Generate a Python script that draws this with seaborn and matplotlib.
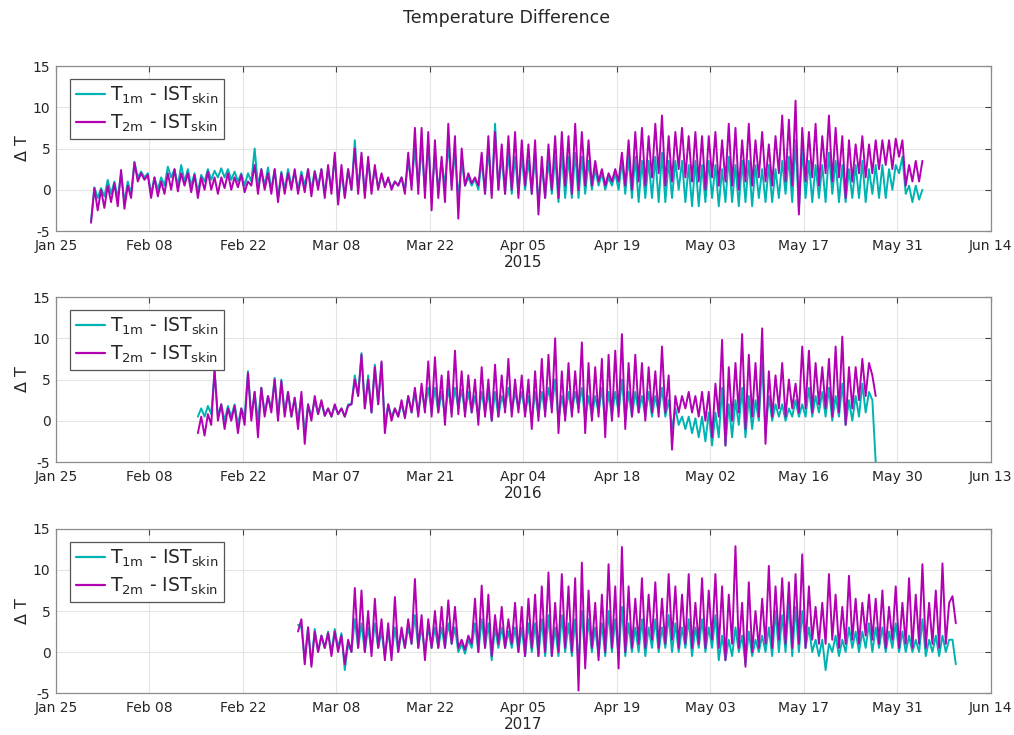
import matplotlib
matplotlib.use('Agg')
import matplotlib.dates as mdates
import matplotlib.pyplot as plt
import numpy as np
import pandas as pd
import seaborn as sns

# half-daily values (morning low, afternoon high)
years = [2015, 2016, 2017]
starts = ['2015-01-30', '2016-02-15', '2017-03-02']

cyan_2015 = [
    -3.8, 0.3, -1.0, 0.2, -0.8, 1.2, -0.5, 1.0, -1.0, 2.0, -1.5, 1.0, -0.5, 3.4,
    1.5, 2.2, 1.5, 2.0, -0.5, 1.5, 0.0, 1.5, 0.5, 2.8, 1.5, 2.5, 0.5, 3.0,
    1.0, 2.5, 0.5, 2.0, -0.3, 1.8, 1.0, 2.5, 1.2, 2.3, 1.5, 2.6, 1.5, 2.5,
    1.2, 2.2, 1.0, 2.0, 0.5, 2.0, 1.0, 5.0, 0.5, 2.5, 0.5, 2.7, 0.0, 2.5,
    -1.0, 2.2, 0.0, 2.5, 0.5, 2.0, 0.0, 2.2, 0.5, 2.5, 0.0, 2.3, 0.5, 2.5,
    -0.5, 2.5, 0.0, 4.0, -1.5, 2.0, -0.8, 2.5, 0.0, 6.0, 0.0, 4.0, -0.5, 3.5,
    0.0, 2.5, 0.3, 1.8, 0.5, 1.3, 0.3, 1.0, 0.5, 1.5, 0.0, 3.5, 0.5, 5.0,
    0.5, 5.0, 0.0, 5.5, -0.5, 4.0, 0.0, 3.5, 0.5, 5.5, 0.5, 4.5, -1.0, 3.5,
    0.5, 1.5, 0.5, 1.3, 0.0, 3.5, -0.5, 5.0, -0.5, 8.0, 0.0, 4.0, -0.5, 4.5,
    -0.5, 4.0, -0.5, 4.0, 0.0, 3.5, -0.5, 4.0, -1.5, 3.0, -1.0, 3.5, -0.5, 4.0,
    -1.5, 4.5, -1.0, 4.0, -1.0, 4.5, -1.0, 4.0, -0.5, 3.5, 0.0, 2.5, 0.5, 2.0,
    0.0, 1.5, 0.5, 2.0, 0.0, 3.5, -0.5, 4.0, -1.0, 4.0, -1.5, 3.5, -1.0, 3.5,
    -1.0, 4.0, -1.5, 4.5, -1.5, 3.5, -1.0, 3.5, 0.0, 3.5, -1.5, 3.0, -2.0, 3.5,
    -2.0, 3.0, -1.5, 3.5, -1.0, 3.0, -2.0, 2.5, -1.5, 4.0, -1.5, 3.0, -2.0, 3.5,
    -1.5, 3.5, -2.0, 3.0, -1.0, 2.5, -1.5, 3.0, -1.5, 2.5, -1.0, 3.5, -0.5, 4.0,
    -1.5, 6.0, -2.5, 5.0, -1.0, 3.5, -1.5, 3.0, -1.0, 3.0, -1.5, 4.5, -0.5, 3.5,
    -1.5, 3.0, -1.5, 2.5, -1.0, 3.0, -1.0, 3.5, -1.5, 2.5, -0.5, 3.0, -1.0, 3.0,
    -1.0, 2.5, 0.0, 3.0, 2.0, 4.0, -0.5, 0.5, -1.5, 0.5, -1.2, 0.0,
]
mag_2015 = [
    -4.0, 0.2, -2.5, 0.0, -2.2, 0.5, -1.5, 0.8, -2.0, 2.4, -2.3, 0.5, -1.0, 3.3,
    1.0, 2.0, 1.2, 1.8, -1.0, 1.5, -0.8, 1.0, -0.5, 2.0, 0.0, 2.5, -0.2, 2.0,
    0.5, 2.0, -0.3, 1.8, -1.0, 1.5, 0.0, 2.2, 0.0, 1.5, -0.5, 1.5, 0.2, 2.0,
    0.0, 1.5, 0.3, 1.8, -0.3, 1.0, 0.5, 3.0, -0.5, 2.5, 0.0, 2.0, -0.5, 2.5,
    -1.5, 2.0, -0.5, 2.0, 0.0, 2.5, -0.5, 1.8, -0.3, 2.5, -0.8, 2.2, 0.0, 2.5,
    -1.0, 3.0, -0.5, 4.5, -1.8, 3.0, -1.0, 2.5, 0.0, 5.0, -0.5, 4.5, -1.0, 4.0,
    -0.5, 3.0, 0.0, 2.0, 0.3, 1.5, 0.0, 1.0, 0.5, 1.5, -0.5, 4.5, 0.0, 7.5,
    -0.5, 7.5, -1.0, 7.0, -2.5, 6.0, -1.0, 4.0, -1.5, 8.0, 0.0, 6.5, -3.5, 5.0,
    0.5, 2.0, 0.8, 1.5, 0.5, 4.5, -0.5, 6.5, -1.0, 7.0, 0.0, 5.5, -0.5, 6.5,
    0.0, 7.0, -1.0, 6.0, 0.5, 5.5, -0.5, 6.0, -3.0, 4.0, -1.0, 5.5, 0.0, 6.5,
    -1.0, 7.0, 0.5, 6.5, -0.5, 8.0, 0.0, 7.0, 0.5, 6.0, 0.5, 3.5, 1.0, 2.5,
    0.5, 2.0, 1.0, 2.5, 1.0, 4.5, 0.5, 6.0, 0.0, 7.0, 1.0, 7.5, 0.5, 6.5,
    1.5, 8.0, 2.0, 9.0, 0.5, 6.5, 1.0, 7.0, 2.5, 7.5, 1.5, 6.5, 1.0, 7.0,
    1.0, 6.5, 0.0, 6.5, 1.5, 7.0, 0.5, 6.0, 1.0, 8.0, 0.5, 7.5, 0.0, 6.0,
    1.0, 8.0, 0.5, 6.0, 1.5, 7.0, 1.0, 5.5, 0.5, 6.5, 2.0, 9.0, 1.0, 8.5,
    0.5, 10.8, -3.0, 7.5, 1.0, 7.0, 1.5, 8.0, 0.5, 6.5, 2.0, 9.0, 1.0, 7.5,
    1.5, 6.5, -1.0, 6.0, 1.0, 5.5, 2.0, 6.5, 1.5, 5.5, 2.0, 6.0, 2.5, 6.0,
    3.0, 6.0, 2.5, 6.2, 4.0, 6.0, 0.5, 3.0, 1.0, 3.5, 1.0, 3.5,
]

cyan_2016 = [
    0.5, 1.5, 0.5, 1.8, 0.8, 6.0, 0.5, 2.0, 0.0, 1.8, 0.5, 2.0, -0.5, 1.5,
    0.5, 6.0, 0.5, 3.5, 0.0, 4.0, 1.0, 3.0, 1.5, 5.2, 0.5, 5.0, 1.0, 3.5,
    0.5, 2.8, 0.0, 3.0, -1.5, 2.0, 0.5, 2.5, 0.8, 2.2, 0.6, 1.5, 0.5, 1.8,
    0.8, 1.5, 0.5, 2.0, 2.0, 5.5, 3.0, 8.2, 1.5, 5.5, 1.0, 6.8, 2.0, 7.0,
    -0.5, 2.0, 0.5, 1.5, 0.5, 2.0, 0.5, 3.0, 1.0, 3.5, 1.0, 3.8, 1.5, 4.0,
    1.0, 4.0, 1.0, 3.5, 0.5, 4.0, 1.0, 4.0, 1.5, 3.8, 1.0, 3.5, 1.0, 3.0,
    0.5, 3.5, 1.0, 3.5, 0.0, 3.5, 0.5, 3.0, 1.5, 4.0, 1.0, 3.5, 1.5, 3.5,
    1.0, 3.0, 0.0, 3.5, 0.5, 3.5, 1.0, 4.0, 1.5, 5.0, 0.0, 3.0, 0.5, 3.5,
    1.0, 3.5, 1.5, 4.0, 0.0, 3.0, 0.5, 3.0, 1.0, 4.0, -0.5, 3.5, 0.5, 3.5,
    1.0, 5.0, 0.0, 3.5, 0.5, 3.5, 1.0, 3.0, 0.5, 3.5, 0.5, 3.0, 1.0, 4.0,
    0.5, 2.5, -1.0, 1.5, -0.5, 0.5, -1.0, 0.5, -1.5, 0.3, -2.0, 0.5, -2.5, 1.0,
    -3.0, 1.0, -2.0, 4.0, -3.0, 2.0, -2.0, 2.5, -0.5, 4.0, -2.0, 3.0, -1.0, 2.5,
    0.0, 7.0, -1.5, 3.0, 0.0, 2.0, 0.5, 2.0, 0.0, 1.5, 0.5, 2.5, 0.5, 2.0,
    0.5, 4.0, 0.5, 3.0, 1.0, 3.5, 0.5, 4.0, 0.0, 3.0, 0.5, 4.5, -0.5, 2.5,
    0.0, 3.0, 0.5, 4.5, 1.0, 3.5, 2.5, -5.0,
]
mag_2016 = [
    -1.5, 0.5, -1.8, 0.8, -0.5, 6.2, 0.0, 2.0, -1.0, 1.5, 0.0, 1.8, -1.5, 1.5,
    -0.5, 5.8, 0.0, 3.5, -2.0, 4.0, 0.5, 3.0, 1.0, 5.0, 0.0, 4.8, 0.5, 3.5,
    0.5, 2.8, -1.0, 3.5, -2.8, 2.0, 0.0, 3.0, 0.8, 2.5, 0.6, 1.5, 0.5, 2.0,
    0.8, 1.5, 0.5, 1.8, 2.0, 5.0, 3.0, 8.0, 1.5, 5.0, 1.0, 6.5, 2.0, 7.2,
    -1.5, 2.0, 0.0, 1.5, 0.5, 2.5, 0.3, 3.0, 1.0, 4.0, 0.5, 4.5, 1.0, 7.2,
    0.5, 7.7, 1.0, 5.5, -0.5, 6.0, 0.5, 8.5, 0.8, 6.0, 0.5, 5.5, 1.0, 5.0,
    -0.5, 6.5, 0.5, 5.0, 0.0, 6.8, 0.5, 5.5, 1.0, 7.5, 0.5, 5.0, 1.0, 5.5,
    0.5, 5.0, -1.0, 6.0, 0.0, 7.5, 0.5, 8.0, 1.0, 10.0, -1.5, 6.0, 0.0, 7.0,
    0.5, 6.0, 1.0, 9.5, -1.5, 7.0, 0.0, 6.5, 0.5, 7.5, -2.0, 8.0, 0.0, 8.5,
    0.5, 10.5, -1.0, 7.0, 0.5, 8.0, 1.0, 7.0, 0.0, 6.5, 1.0, 6.0, 0.5, 9.0,
    1.0, 5.5, -3.5, 3.0, 1.0, 3.0, 1.5, 3.5, 1.0, 3.0, 0.5, 3.5, 0.0, 3.5,
    -2.0, 4.5, 0.5, 9.8, -3.0, 6.5, 0.0, 7.0, 1.0, 10.5, -1.0, 8.0, 0.5, 7.0,
    0.5, 11.2, -2.8, 6.0, 0.5, 5.5, 1.5, 7.0, 0.5, 5.0, 1.5, 4.5, 1.0, 9.0,
    1.5, 8.5, 1.0, 7.0, 2.0, 6.5, 1.5, 7.5, 0.5, 9.0, 1.0, 10.2, -0.5, 6.5,
    1.5, 6.5, 2.5, 7.5, 3.0, 7.0, 5.5, 3.0,
]

cyan_2017 = [
    3.3, 3.0, -1.0, 3.0, -1.5, 2.8, 0.0, 2.0, 0.5, 2.5, 0.0, 2.8, 0.5, 2.3,
    -2.2, 1.0, 0.0, 4.0, 0.5, 3.5, 0.0, 3.0, 0.0, 3.5, 0.5, 2.5, -0.5, 2.5,
    -0.5, 3.0, 0.0, 2.5, 0.5, 3.0, 1.0, 4.5, 0.5, 3.0, 0.0, 3.0, 0.5, 3.0,
    0.5, 3.0, 0.5, 3.5, 1.0, 3.0, 0.0, 1.0, -0.2, 1.5, 0.5, 3.5, 0.0, 4.0,
    0.5, 3.5, -1.0, 3.0, 0.5, 3.0, 0.5, 2.5, 0.5, 3.0, 0.0, 3.0, -0.5, 3.5,
    0.0, 3.5, -0.5, 4.0, -0.5, 4.5, -0.5, 3.0, -0.5, 4.5, 0.0, 3.5, -0.5, 4.0,
    -1.5, 5.0, -1.0, 4.0, 0.0, 3.0, -0.5, 3.5, -0.5, 5.0, 0.0, 4.0, -0.5, 5.5,
    -0.5, 3.5, 0.0, 3.0, 0.0, 4.0, -0.5, 3.0, 0.5, 4.0, 0.0, 3.0, 0.5, 4.5,
    0.0, 3.5, 0.0, 3.0, 0.5, 4.0, -0.5, 3.0, 0.5, 4.0, 0.0, 3.0, 0.5, 4.5,
    -1.0, 2.0, -1.0, 1.5, -0.5, 3.0, 0.0, 2.0, -1.5, 2.5, -0.5, 1.5, 0.0, 2.0,
    0.0, 3.0, -0.5, 5.0, 0.0, 4.5, 0.0, 6.0, -0.5, 5.5, 0.0, 5.0, 0.5, 3.0,
    0.0, 1.5, -0.5, 1.5, -2.2, 1.0, 0.0, 2.0, -0.5, 1.5, 0.0, 3.0, 0.5, 2.5,
    0.0, 2.5, 0.5, 3.5, 0.0, 3.0, 0.5, 3.0, 0.0, 2.5, 0.5, 3.5, 0.0, 2.5,
    0.0, 2.0, 0.0, 1.5, 0.0, 4.0, -0.5, 1.5, 0.0, 2.0, -0.5, 2.0, 0.0, 1.5,
    1.5, -1.5,
]
mag_2017 = [
    2.5, 4.0, -1.5, 3.0, -1.8, 2.5, 0.0, 2.0, 0.5, 2.3, -0.5, 2.5, 0.0, 2.0,
    -1.5, 1.5, 0.0, 7.8, 0.5, 7.5, 0.0, 5.0, -0.5, 6.5, 0.5, 4.0, -1.0, 3.5,
    -1.0, 6.7, 0.0, 3.0, 0.5, 4.0, 1.0, 8.9, 0.5, 4.5, -1.0, 4.0, 0.5, 5.0,
    0.5, 5.5, 0.5, 6.3, 1.0, 5.5, 0.5, 1.5, 0.3, 2.0, 1.0, 6.5, 0.0, 8.1,
    0.5, 7.0, -0.5, 4.5, 1.0, 5.5, 0.5, 4.0, 1.0, 6.0, 0.0, 5.5, -0.5, 6.5,
    0.5, 7.0, -0.5, 8.0, 0.0, 9.7, -0.5, 6.0, 0.0, 9.5, 0.5, 8.0, 0.0, 9.0,
    -4.7, 10.9, -2.0, 7.5, 0.5, 6.0, -1.0, 7.0, 0.0, 10.7, 0.5, 8.0, -2.0, 12.8,
    0.0, 8.0, 0.5, 6.5, 1.0, 9.0, 0.5, 7.0, 1.5, 8.5, 0.5, 6.5, 1.0, 9.5,
    1.5, 8.0, 0.5, 7.0, 1.0, 9.5, 0.5, 6.0, 1.0, 9.0, 0.5, 7.5, 1.5, 9.5,
    0.5, 8.0, -1.0, 7.0, 1.0, 12.9, 0.5, 6.0, -1.8, 8.5, 0.0, 5.0, 0.5, 6.5,
    1.0, 10.5, 0.5, 8.0, 1.5, 9.0, 1.0, 8.5, 0.5, 9.5, 1.0, 11.9, 0.5, 8.0,
    1.5, 5.5, 1.0, 6.0, 1.0, 9.5, 1.5, 7.0, 0.5, 5.5, 1.0, 9.3, 1.5, 6.5,
    1.0, 6.0, 2.0, 7.0, 1.5, 6.5, 1.0, 7.5, 0.5, 5.5, 1.5, 8.0, 0.5, 6.0,
    1.0, 9.0, 0.5, 7.0, 1.0, 10.7, 0.5, 6.0, 1.0, 7.5, 0.5, 10.8, 1.0, 6.0,
    6.8, 3.5,
]

cyan_data = [cyan_2015, cyan_2016, cyan_2017]
mag_data = [mag_2015, mag_2016, mag_2017]
xlims = [('2015-01-25', '2015-06-14'), ('2016-01-25', '2016-06-13'), ('2017-01-25', '2017-06-14')]

label_1m = r'T$_{\mathregular{1m}}$ - IST$_{\mathregular{skin}}$'
label_2m = r'T$_{\mathregular{2m}}$ - IST$_{\mathregular{skin}}$'
cyan = (0.0, 0.7, 0.7)
magenta = (0.7, 0.0, 0.7)


def draw_panel(ax, year, start, cy, mg, lim):
    t0 = pd.Timestamp(start) + pd.Timedelta(hours=6)
    t_c = pd.date_range(t0, periods=len(cy), freq='12h')
    t_m = pd.date_range(t0, periods=len(mg), freq='12h')
    sns.lineplot(x=t_c, y=cy, color=cyan, lw=1.4, ax=ax, label=label_1m)
    sns.lineplot(x=t_m, y=mg, color=magenta, lw=1.4, ax=ax, label=label_2m)

    lo, hi = pd.Timestamp(lim[0]), pd.Timestamp(lim[1])
    ax.set_xlim(lo, hi)
    ax.set_xticks(pd.date_range(lo, hi, freq='14D'))
    ax.xaxis.set_major_formatter(mdates.DateFormatter('%b %d'))
    ax.set_ylim(-5, 15)
    ax.set_yticks([-5, 0, 5, 10, 15])
    ax.set_xlabel(str(year), fontsize=11, color='#262626', labelpad=1)
    ax.set_ylabel(r'$\Delta$ T', fontsize=11.5, color='#262626', labelpad=2)
    ax.tick_params(direction='in', top=True, right=True, length=4, width=0.8,
                   color='#444444', labelsize=10, labelcolor='#262626', pad=4)
    ax.tick_params(axis='x', pad=6)
    ax.grid(True, color='#e4e4e4', lw=0.8)
    for s in ax.spines.values():
        s.set_color('#8c8c8c')
        s.set_linewidth(0.9)
    leg = ax.legend(loc='upper left', bbox_to_anchor=(0.015, 0.921), fontsize=13.5,
                    handlelength=1.55, handletextpad=0.3, borderpad=0.3,
                    labelspacing=0.35, fancybox=False, framealpha=1,
                    borderaxespad=0)
    leg.get_frame().set_edgecolor('#555555')
    leg.get_frame().set_linewidth(0.9)
    for h in leg.get_lines():
        h.set_linewidth(1.6)


def run():
    sns.set_style('whitegrid')
    plt.rcParams['font.family'] = ['DejaVu Sans']
    plt.rcParams['mathtext.default'] = 'regular'
    plt.rcParams['axes.unicode_minus'] = False

    fig = plt.figure(figsize=(10.14, 7.35), dpi=100)
    boxes = [[0.0552, 0.6857, 0.922, 0.2245],
             [0.0552, 0.3714, 0.922, 0.2245],
             [0.0552, 0.0571, 0.922, 0.2232]]
    for i in range(3):
        ax = fig.add_axes(boxes[i])
        draw_panel(ax, years[i], starts[i], cyan_data[i], mag_data[i], xlims[i])

    fig.suptitle('Temperature Difference', x=0.5, y=0.988, fontsize=12.5, color='#262626')
    fig.savefig('out.png', dpi=100, facecolor='white')
    plt.close(fig)


if __name__ == '__main__':
    run()
